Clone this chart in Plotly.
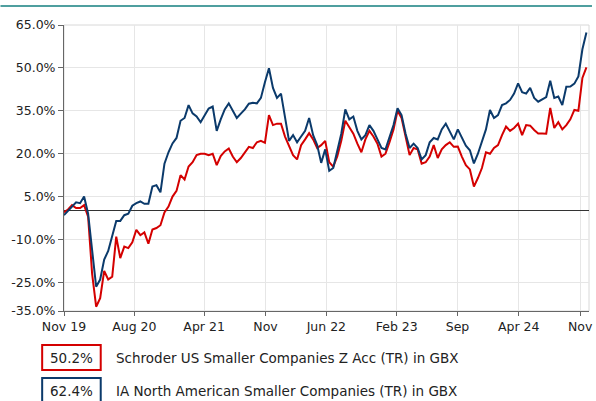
import pandas as pd
import plotly.graph_objects as go

# ---- data (fortnightly points) ----
dates = pd.date_range("2019-11-30", periods=131, freq="14D")

schroder_us_smaller = [
    -0.5, 0.5, 2.0, 1.0, 1.0, 2.0, -2.0, -22.0, -33.5, -30.5,
    -21.0, -24.0, -23.0, -9.0, -16.5, -12.5, -13.0, -11.0, -6.6, -8.5,
    -7.5, -11.5, -6.5, -6.0, -5.0, -0.5, 1.5, 5.0, 7.0, 12.5,
    11.0, 15.5, 17.0, 19.5, 20.0, 20.0, 19.5, 20.0, 16.0, 19.2,
    20.8, 21.8, 19.0, 17.0, 18.5, 20.5, 22.4, 22.0, 24.0, 24.5,
    23.8, 33.5, 30.0, 30.5, 30.5, 26.0, 23.0, 19.5, 18.0, 23.0,
    25.0, 27.2, 25.0, 22.0, 23.0, 24.5, 17.0, 15.5, 19.0, 24.5,
    31.5, 29.0, 27.0, 23.5, 20.5, 25.0, 28.0, 26.0, 23.5, 19.0,
    20.0, 24.0, 28.5, 35.0, 32.5, 26.0, 19.5, 22.0, 21.5, 16.5,
    17.0, 19.0, 23.0, 18.5, 21.5, 23.0, 24.0, 22.4, 22.5, 19.0,
    16.0, 14.5, 8.5, 11.5, 15.0, 20.5, 20.0, 22.0, 23.0, 26.5,
    29.5, 28.0, 29.0, 30.5, 26.5, 30.0, 29.8, 28.3, 27.1, 27.1,
    27.0, 36.0, 29.0, 31.0, 28.5, 30.0, 32.0, 35.3, 35.0, 46.5,
    50.2,
]

ia_na_smaller = [
    -1.5, 0.0, 1.8, 3.0, 2.7, 5.0, -1.0, -15.0, -26.5, -24.0,
    -17.0, -14.0, -8.5, -3.5, -3.5, -1.5, -1.0, 1.8, 2.7, 3.3,
    2.5, 2.5, 8.5, 9.0, 6.5, 16.5, 20.5, 23.6, 25.5, 31.5,
    32.5, 37.0, 34.1, 33.0, 31.0, 33.5, 35.8, 36.5, 28.0, 32.0,
    35.5, 37.6, 35.0, 32.5, 34.0, 35.5, 37.5, 37.8, 37.6, 39.5,
    45.0, 49.9, 43.0, 39.5, 41.0, 33.0, 24.5, 26.5, 24.0, 26.0,
    28.0, 32.5, 26.5, 23.0, 16.8, 21.5, 14.0, 15.0, 21.0, 27.0,
    35.5, 32.0, 33.0, 28.0, 25.0, 26.5, 30.0, 28.0, 25.0, 22.0,
    21.5, 25.5, 30.0, 35.9, 33.5, 27.0, 22.0, 23.5, 22.0, 18.0,
    19.5, 24.0, 25.5, 25.0, 28.5, 30.5, 27.5, 25.0, 28.5, 25.5,
    22.8, 21.2, 16.6, 20.0, 24.5, 28.5, 35.3, 32.5, 33.5, 37.0,
    37.6, 38.8, 41.0, 44.6, 41.5, 41.0, 43.0, 39.5, 38.2, 39.0,
    39.8, 45.5, 39.5, 40.0, 37.0, 43.4, 43.5, 44.5, 47.0, 56.5,
    62.4,
]

series_names = [
    "Schroder US Smaller Companies Z Acc (TR) in GBX",
    "IA North American Smaller Companies (TR) in GBX",
]
series_returns = ["50.2%", "62.4%"]

y_tickvals = [-35, -25, -10, 5, 20, 35, 50, 65]
x_tickvals = ["2019-11-30", "2020-08-01", "2021-04-01", "2021-11-01", "2022-06-01",
              "2023-02-01", "2023-09-01", "2024-04-01", "2024-11-01"]
x_ticktext = ["Nov 19", "Aug 20", "Apr 21", "Nov", "Jun 22", "Feb 23", "Sep", "Apr 24", "Nov"]

# ---- styling / layout ----
RED = "#d40000"
BLUE = "#0b3a6b"
FONT = "DejaVu Sans, Verdana, sans-serif"
FS = 12.5
FS_LEG = 13.5
W, H = 596, 401
L, R, T, B = 64, 3, 25, 90
PW, PH = W - L - R, H - T - B


def px2x(px):
    return (px - L) / PW


def py2y(py):
    return (H - B - py) / PH


fig = go.Figure()
fig.add_trace(go.Scatter(x=dates, y=schroder_us_smaller, mode="lines",
                         line=dict(color=RED, width=2), name=series_names[0]))
fig.add_trace(go.Scatter(x=dates, y=ia_na_smaller, mode="lines",
                         line=dict(color=BLUE, width=2), name=series_names[1]))

fig.update_layout(
    width=W, height=H,
    margin=dict(l=L, r=R, t=T, b=B, pad=0),
    paper_bgcolor="white", plot_bgcolor="white",
    showlegend=False,
    font=dict(family=FONT, size=FS, color="#222"),
)
fig.update_xaxes(
    type="date", range=["2019-11-30", "2024-12-02"],
    tickvals=x_tickvals, ticktext=x_ticktext,
    showgrid=True, gridcolor="#e6e6e6", gridwidth=1,
    showline=True, linecolor="#666", linewidth=1,
    ticks="outside", ticklen=4, tickcolor="#666",
    tickfont=dict(size=FS, color="#222"),
    ticklabeloverflow="allow",
)
fig.update_yaxes(
    range=[-35, 65], tickvals=y_tickvals,
    ticktext=[f"{v:.1f}%" for v in y_tickvals],
    showgrid=True, gridcolor="#e6e6e6", gridwidth=1,
    showline=True, linecolor="#666", linewidth=1,
    ticks="outside", ticklen=5, tickcolor="#666",
    zeroline=True, zerolinecolor="#333", zerolinewidth=1,
    tickfont=dict(size=FS, color="#222"),
)

shapes = [
    dict(type="rect", xref="paper", yref="paper", x0=0, y0=0, x1=1, y1=1,
         line=dict(color="#d8d8d8", width=1), layer="below"),
    dict(type="line", xref="paper", yref="paper", x0=px2x(0), x1=px2x(W),
         y0=py2y(6), y1=py2y(6), line=dict(color="#4f9f9f", width=2)),
]
annotations = []
colors = [RED, BLUE]
box_tops = [345, 378]
for i in range(2):
    top = box_tops[i]
    shapes.append(dict(type="rect", xref="paper", yref="paper",
                       x0=px2x(42), x1=px2x(101), y0=py2y(top), y1=py2y(top + 25),
                       line=dict(color=colors[i], width=2)))
    annotations.append(dict(xref="paper", yref="paper", x=px2x(71.5), y=py2y(top + 12.5),
                            text=series_returns[i], showarrow=False,
                            xanchor="center", yanchor="middle",
                            font=dict(size=FS_LEG, color="#222")))
    annotations.append(dict(xref="paper", yref="paper", x=px2x(114), y=py2y(top + 12.5),
                            text=series_names[i], showarrow=False,
                            xanchor="left", yanchor="middle",
                            font=dict(size=FS_LEG, color="#222")))

fig.update_layout(shapes=shapes, annotations=annotations)
fig.write_html("out.html",
               config={"displayModeBar": False},
               post_script="document.body.style.margin='0';document.body.style.padding='0';"
                           "document.body.style.overflow='hidden';")
